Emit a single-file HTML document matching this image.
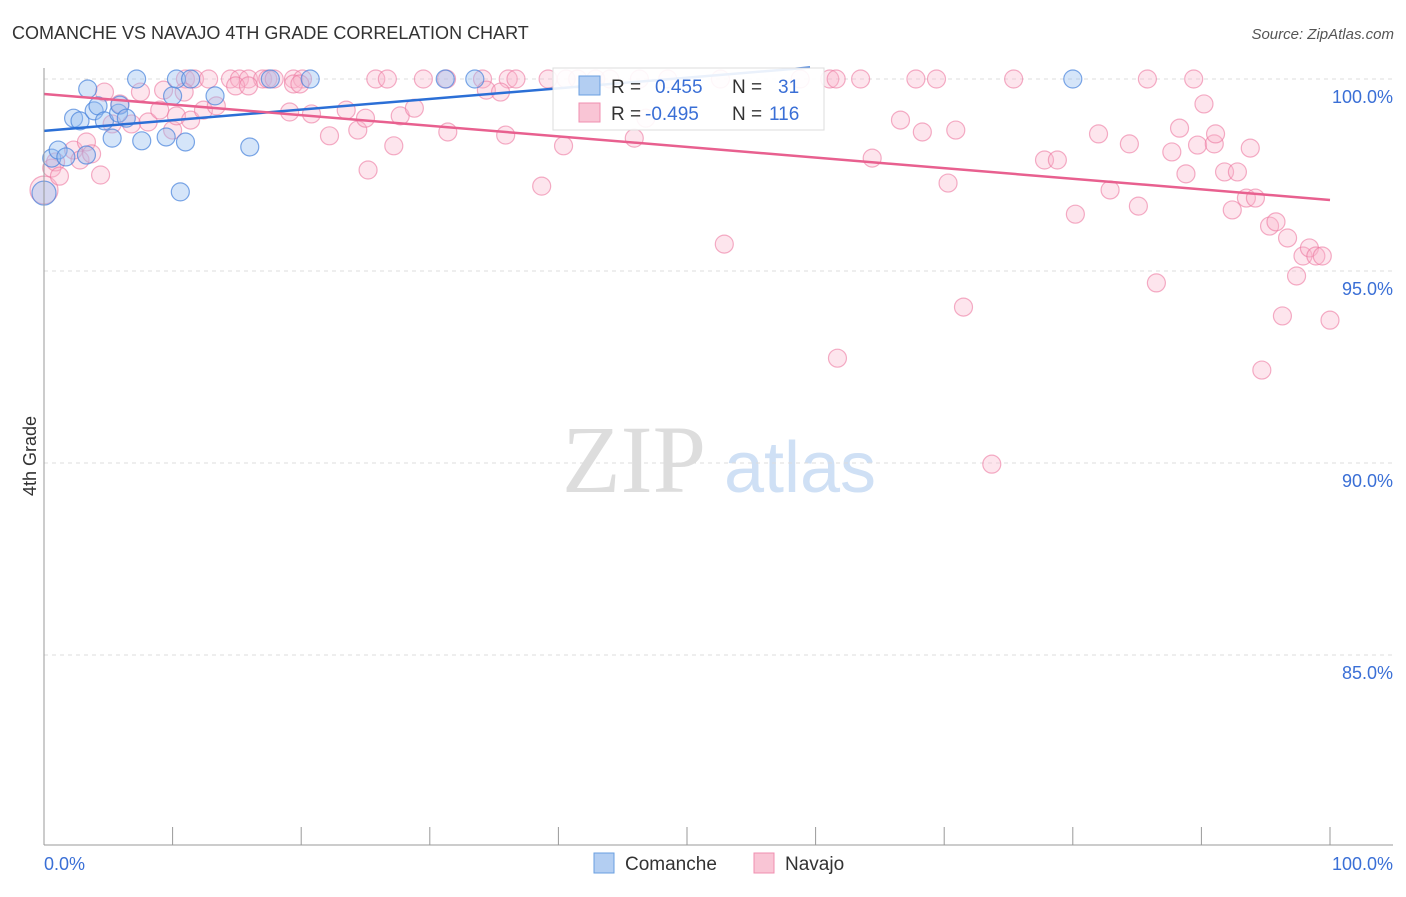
<!DOCTYPE html>
<html><head><meta charset="utf-8"><style>
body{margin:0;background:#fff;font-family:"Liberation Sans",sans-serif;}
</style></head><body>
<svg id="chart" width="1406" height="892">
<text x="12" y="39" font-size="18" fill="#333">COMANCHE VS NAVAJO 4TH GRADE CORRELATION CHART</text>
<text x="1394" y="39" font-size="15" fill="#555" font-style="italic" text-anchor="end">Source: ZipAtlas.com</text>
<text x="36" y="456" font-size="18" fill="#333" transform="rotate(-90 36 456)" text-anchor="middle">4th Grade</text>
<text x="634" y="492" font-size="96" fill="#ddd" font-family="Liberation Serif,serif" text-anchor="middle">ZIP</text>
<text x="800" y="492" font-size="72" fill="#cfe0f5" text-anchor="middle">atlas</text>
<g id="grid"></g><g id="marks"></g>
<line x1="44" y1="68" x2="44" y2="845" stroke="#999"/>
<line x1="44" y1="845" x2="1393" y2="845" stroke="#999"/>
<text x="44" y="870" font-size="18" fill="#3a6fd6">0.0%</text>
<text x="1393" y="870" font-size="18" fill="#3a6fd6" text-anchor="end">100.0%</text>
<g>
<rect x="553" y="68" width="271" height="62" fill="#fff" fill-opacity="0.9" stroke="#ddd"/>
<rect x="579" y="76" width="21" height="19" fill="#b3cef2" stroke="#6a9fe0"/>
<rect x="579" y="103" width="21" height="19" fill="#f9c5d5" stroke="#f08fb0"/>
<text x="611" y="93" font-size="19" fill="#333">R = <tspan fill="#3a6fd6" x="655">0.455</tspan><tspan x="732" fill="#333">N =</tspan><tspan x="778" fill="#3a6fd6">31</tspan></text>
<text x="611" y="120" font-size="19" fill="#333">R = <tspan fill="#3a6fd6" x="645">-0.495</tspan><tspan x="732" fill="#333">N =</tspan><tspan x="769" fill="#3a6fd6">116</tspan></text>
</g>
<g>
<rect x="594" y="853" width="20" height="20" fill="#b3cef2" stroke="#6a9fe0"/>
<text x="625" y="870" font-size="19" fill="#333">Comanche</text>
<rect x="754" y="853" width="20" height="20" fill="#f9c5d5" stroke="#f08fb0"/>
<text x="785" y="870" font-size="19" fill="#333">Navajo</text>
</g>
</svg>
<script>
const yTicks=[100,95,90,85];
const yTickLabels=["100.0%","95.0%","90.0%","85.0%"];
const comancheX=[0,0.6,1.1,1.7,2.3,2.8,3.4,3.3,3.9,4.2,4.7,5.3,5.8,5.9,6.4,7.2,7.6,9.5,10.0,10.3,10.6,11.0,11.4,13.3,16.0,17.6,20.7,31.2,33.5,80.0];
const comancheY=[97.03,97.94,98.15,97.97,98.98,98.91,99.74,98.02,99.17,99.30,98.91,98.46,99.11,99.32,98.98,100,98.39,98.49,99.56,100,97.06,98.36,100,99.56,98.23,100,100,100,100,100];
const navajoX=[11.0,11.7,12.8,14.5,15.2,15.9,17.0,17.4,17.9,19.4,20.1,25.8,26.7,29.5,31.3,34.1,36.1,36.7,39.2,40.6,41.5,42.9,44.0,46.3,48.5,52.6,58.8,61.1,61.6,63.5,67.8,69.4,75.4,85.8,89.4,
0,0.6,0.9,1.2,2.3,2.8,3.3,3.7,4.4,4.7,5.3,5.9,6.8,7.5,8.1,9.0,9.3,10.0,10.3,10.9,11.4,12.4,13.4,14.9,15.9,19.1,19.4,19.9,20.8,22.2,23.5,24.4,25.0,25.2,27.2,27.7,28.8,31.4,34.4,35.5,35.9,38.7,40.4,45.9,46.8,52.9,61.7,64.4,66.6,68.3,70.3,70.9,71.5,73.7,77.8,78.8,80.2,82.0,82.9,84.4,85.1,86.5,87.7,88.3,88.8,89.7,90.2,91.0,91.1,91.8,92.4,92.8,93.5,93.8,94.2,94.7,95.3,95.8,96.3,96.7,97.4,97.9,98.4,98.9,99.4,100];
const navajoY=[100,100,100,100,100,100,100,100,100,100,100,100,100,100,100,100,100,100,100,100,100,100,100,100,100,100,100,100,100,100,100,100,100,100,100,
97.11,97.68,97.84,97.47,98.15,97.89,98.36,98.05,97.50,99.66,98.83,99.35,98.83,99.66,98.88,99.19,99.71,98.67,99.04,99.66,98.93,99.19,99.30,99.82,99.82,99.14,99.87,99.87,99.09,98.52,99.19,98.67,98.98,97.63,98.26,99.04,99.24,98.62,99.71,99.66,98.54,97.21,98.26,98.46,98.98,95.70,92.73,97.94,98.93,98.62,97.29,98.67,94.06,89.97,97.89,97.89,96.48,98.57,97.11,98.31,96.69,94.69,98.10,98.72,97.53,98.28,99.35,98.31,98.57,97.58,96.59,97.58,96.90,98.20,96.90,92.42,96.17,96.28,93.83,95.86,94.87,95.39,95.60,95.39,95.39,93.72];
const comancheTrend=[98.65,101.42];
const navajoTrend=[99.61,96.85];
const NS="http://www.w3.org/2000/svg";
function sx(v){return 44+v*12.86;}
function sy(v){return 79+(100-v)*38.4;}
function mk(t,a,p){const e=document.createElementNS(NS,t);for(const k in a)e.setAttribute(k,a[k]);p.appendChild(e);return e;}
const grid=document.getElementById('grid'),marks=document.getElementById('marks');
yTicks.forEach((t,i)=>{
 const l=mk('line',{x1:44,x2:1393,y1:sy(t),y2:sy(t),stroke:'#ddd','stroke-dasharray':'4,4'},grid);
 
 
 const tx=mk('text',{x:1393,y:sy(t)+24,'font-size':18,fill:'#3a6fd6','text-anchor':'end'},grid);
 tx.textContent=yTickLabels[i];
 
 
});
for(let k=0;k<=10;k++){
 const l=mk('line',{x1:sx(k*10),x2:sx(k*10),y1:827,y2:845,stroke:'#999'},grid);
 
 
}
navajoX.forEach((x,i)=>{
 const big=(x===0);
 const c=mk('circle',{cx:sx(x),cy:sy(navajoY[i]),r:big?14:9,fill:'rgba(248,180,204,0.35)',stroke:'rgba(236,120,160,0.6)','stroke-width':1.2},marks);
 
 
});
comancheX.forEach((x,i)=>{
 const big=(x===0);
 const c=mk('circle',{cx:sx(x),cy:sy(comancheY[i]),r:big?12:9,fill:'rgba(150,190,240,0.4)',stroke:'rgba(70,130,220,0.7)','stroke-width':1.2},marks);
 
 
});
const pe=(100.3-comancheTrend[0])/(comancheTrend[1]-comancheTrend[0])*100;
const bl=mk('line',{x1:sx(0),y1:sy(comancheTrend[0]),x2:sx(pe),y2:sy(100.3),stroke:'#2b6fd6','stroke-width':2.5},marks);


const pl=mk('line',{x1:sx(0),y1:sy(navajoTrend[0]),x2:sx(100),y2:sy(navajoTrend[1]),stroke:'#e8608f','stroke-width':2.5},marks);


</script>
</body></html>
